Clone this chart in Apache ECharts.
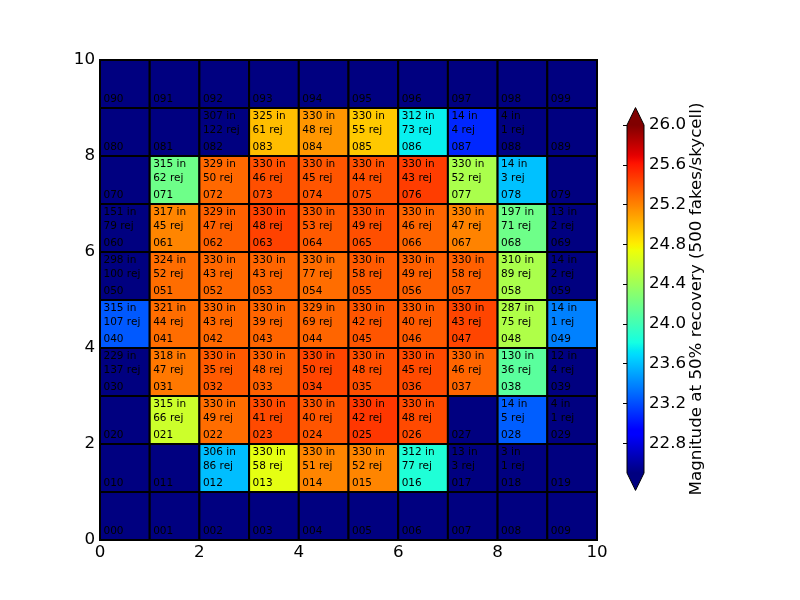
<!DOCTYPE html>
<html><head><meta charset="utf-8">
<script src="https://cdn.jsdelivr.net/npm/echarts@6/dist/echarts.min.js"></script>
<style>html,body{margin:0;padding:0;background:#fff}#c{width:800px;height:600px}</style>
</head><body><div id="c"></div>
<script>
// ---- data: one array per row (row y = 0..9, columns x = 0..9) ----
// Magnitude at 50% recovery; null = no value (drawn with the under-range colour)
const mag0 = [null,null,null,null,null,null,null,null,null,null];
const mag1 = [null,null,23.59,24.70,25.19,25.19,23.86,null,null,null];
const mag2 = [null,24.59,25.28,25.41,25.37,25.48,25.41,null,23.26,null];
const mag3 = [null,25.24,25.35,25.33,25.43,25.39,25.41,25.31,24.11,null];
const mag4 = [23.24,25.28,25.30,25.31,25.31,25.37,25.35,25.43,24.47,23.38];
const mag5 = [null,25.28,25.30,25.31,25.28,25.35,25.33,25.33,24.45,null];
const mag6 = [null,25.19,25.33,25.44,25.35,25.39,25.31,25.20,24.19,null];
const mag7 = [null,24.19,25.30,25.39,25.37,25.39,25.46,24.45,23.60,null];
const mag8 = [null,null,null,24.98,25.13,24.94,23.76,23.07,null,null];
const mag9 = [null,null,null,null,null,null,null,null,null,null];
// fakes "in" per cell
const in0 = [null,null,null,null,null,null,null,null,null,null];
const in1 = [null,null,306,330,330,330,312,13,3,null];
const in2 = [null,315,330,330,330,330,330,null,14,4];
const in3 = [229,318,330,330,330,330,330,330,130,12];
const in4 = [315,321,330,330,329,330,330,330,287,14];
const in5 = [298,324,330,330,330,330,330,330,310,14];
const in6 = [151,317,329,330,330,330,330,330,197,13];
const in7 = [null,315,329,330,330,330,330,330,14,null];
const in8 = [null,null,307,325,330,330,312,14,4,null];
const in9 = [null,null,null,null,null,null,null,null,null,null];
// fakes "rej" per cell
const rej0 = [null,null,null,null,null,null,null,null,null,null];
const rej1 = [null,null,86,58,51,52,77,3,1,null];
const rej2 = [null,66,49,41,40,42,48,null,5,1];
const rej3 = [137,47,35,48,50,48,45,46,36,4];
const rej4 = [107,44,43,39,69,42,40,43,75,1];
const rej5 = [100,52,43,43,77,58,49,58,89,2];
const rej6 = [79,45,47,48,53,49,46,47,71,2];
const rej7 = [null,62,50,46,45,44,43,52,3,null];
const rej8 = [null,null,122,61,48,55,73,4,1,null];
const rej9 = [null,null,null,null,null,null,null,null,null,null];
// axis / colour-bar ticks
const axisTicks = [0,2,4,6,8,10];
const cbTicks = [22.8,23.2,23.6,24.0,24.4,24.8,25.2,25.6,26.0];
const cbMin = 22.5, cbMax = 26.0;
const cbLabel = 'Magnitude at 50% recovery (500 fakes/skycell)';

const magRows = [mag0,mag1,mag2,mag3,mag4,mag5,mag6,mag7,mag8,mag9];
const inRows = [in0,in1,in2,in3,in4,in5,in6,in7,in8,in9];
const rejRows = [rej0,rej1,rej2,rej3,rej4,rej5,rej6,rej7,rej8,rej9];

// ---- jet colormap (matplotlib segment data) ----
const jetR = [[0,0],[0.35,0],[0.66,1],[0.89,1],[1,0.5]];
const jetG = [[0,0],[0.125,0],[0.375,1],[0.64,1],[0.91,0],[1,0]];
const jetB = [[0,0.5],[0.11,1],[0.34,1],[0.65,0],[1,0]];
function seg(s,t){for(let i=1;i<s.length;i++){if(t<=s[i][0]){const a=s[i-1],b=s[i];return a[1]+(b[1]-a[1])*(t-a[0])/(b[0]-a[0]);}}return s[s.length-1][1];}
function jet(t){return 'rgb('+Math.round(255*seg(jetR,t))+','+Math.round(255*seg(jetG,t))+','+Math.round(255*seg(jetB,t))+')';}
const N = 128;
const jetColors = []; for(let i=0;i<=N;i++) jetColors.push(jet(i/N));
const underColor = jet(0), overColor = jet(1);
const FONT = '"DejaVu Sans", "Liberation Sans", sans-serif';
const BIG = 16.7;

const cells = [];
for (let r=0;r<10;r++) for (let c=0;c<10;c++) {
  cells.push({value:[c, r, magRows[r][c]==null ? 0 : magRows[r][c]],
    mag: magRows[r][c], nin: inRows[r][c], nrej: rejRows[r][c], id: '0'+r+c});
}

function renderCell(params, api){
  const x = api.value(0), y = api.value(1);
  const d = cells[params.dataIndex];
  const p0 = api.coord([x, y+1]), p1 = api.coord([x+1, y]);
  const fill = (d.mag==null || d.mag < cbMin) ? underColor : api.visual('color');
  const tx = api.coord([x+0.07, y])[0];
  const ts = (txt, yy) => ({type:'text', x: tx, y: api.coord([x, y+yy])[1],
    style:{text: txt, fill:'#000', font: '10.5px '+FONT, textAlign:'left', textVerticalAlign:'middle'}});
  const ch = [{type:'rect', shape:{x:p0[0], y:p0[1], width:p1[0]-p0[0], height:p1[1]-p0[1]},
    style:{fill: fill, stroke:'#000', lineWidth:2}}];
  if (d.nin != null) { ch.push(ts(d.nin+' in', 0.83)); ch.push(ts(d.nrej+' rej', 0.53)); }
  ch.push(ts(d.id, 0.185));
  return {type:'group', children: ch};
}

const extendFrac = 0.05;
function renderBar(params, api){
  const lo = api.value(1), hi = api.value(2);
  const tl = api.coord([0, hi]), br = api.coord([1, lo]);
  const ext = (hi-lo)*extendFrac;
  const tip = api.coord([0.5, hi+ext]), btip = api.coord([0.5, lo-ext]);
  const stops = [];
  for (let i=0;i<=N;i++) stops.push({offset:i/N, color: jet(1-i/N)});
  return {type:'group', children:[
    {type:'rect', shape:{x:tl[0], y:tl[1], width:br[0]-tl[0], height:br[1]-tl[1]},
      style:{fill: new echarts.graphic.LinearGradient(0,0,0,1,stops)}},
    {type:'polygon', shape:{points:[[tl[0],tl[1]],[br[0],tl[1]],[tip[0],tip[1]]]}, style:{fill: overColor}},
    {type:'polygon', shape:{points:[[tl[0],br[1]],[br[0],br[1]],[btip[0],btip[1]]]}, style:{fill: underColor}},
    {type:'polygon', shape:{points:[[tl[0],tl[1]],[tip[0],tip[1]],[br[0],tl[1]],[br[0],br[1]],[btip[0],btip[1]],[tl[0],br[1]]]},
      style:{fill:'none', stroke:'#000', lineWidth:1}}
  ]};
}

const chart = echarts.init(document.getElementById('c'), null, {renderer:'canvas'});
chart.setOption({
  animation:false,
  backgroundColor:'#fff',
  grid:[
    {left:100, top:60, width:497, height:480, show:true, borderColor:'#000', borderWidth:1},
    {left:627, top:125, width:17, height:348}
  ],
  xAxis:[
    {gridIndex:0, type:'value', min:0, max:10, interval:2,
      axisLine:{show:true, lineStyle:{color:'#000'}}, axisTick:{inside:true, length:5, lineStyle:{color:'#000'}},
      splitLine:{show:false}, axisLabel:{color:'#000', fontSize:BIG, fontFamily:FONT, margin:4,
      customValues: axisTicks}},
    {gridIndex:1, type:'value', min:0, max:1, show:false}
  ],
  yAxis:[
    {gridIndex:0, type:'value', min:0, max:10, interval:2,
      axisLine:{show:true, lineStyle:{color:'#000'}}, axisTick:{inside:true, length:5, lineStyle:{color:'#000'}},
      splitLine:{show:false}, axisLabel:{color:'#000', fontSize:BIG, fontFamily:FONT, margin:5,
      customValues: axisTicks}},
    {gridIndex:1, type:'value', min:cbMin, max:cbMax, position:'right',
      axisLine:{show:false}, splitLine:{show:false},
      axisTick:{show:true, inside:true, length:4, customValues: cbTicks, lineStyle:{color:'#000'}},
      axisLabel:{color:'#000', fontSize:BIG, fontFamily:FONT, margin:5, customValues: cbTicks,
        formatter: v => Number(v).toFixed(1)}}
  ],
  visualMap:{type:'continuous', show:false, min:cbMin, max:cbMax, dimension:2, seriesIndex:0,
    inRange:{color: jetColors}, outOfRange:{color: underColor}},
  series:[
    {type:'custom', xAxisIndex:0, yAxisIndex:0, renderItem: renderCell, data: cells,
      encode:{x:0, y:1}, clip:false, z:2},
    {type:'custom', xAxisIndex:1, yAxisIndex:1, renderItem: renderBar, data: [[0, cbMin, cbMax]],
      encode:{x:0, y:[1,2]}, clip:false, z:2}
  ],
  graphic:[
    {type:'text', x:697, y:299, rotation:Math.PI/2,
      style:{text: cbLabel, font: BIG+'px '+FONT, fill:'#000', textAlign:'center', textVerticalAlign:'middle'}}
  ]
});
</script>
</body></html>
